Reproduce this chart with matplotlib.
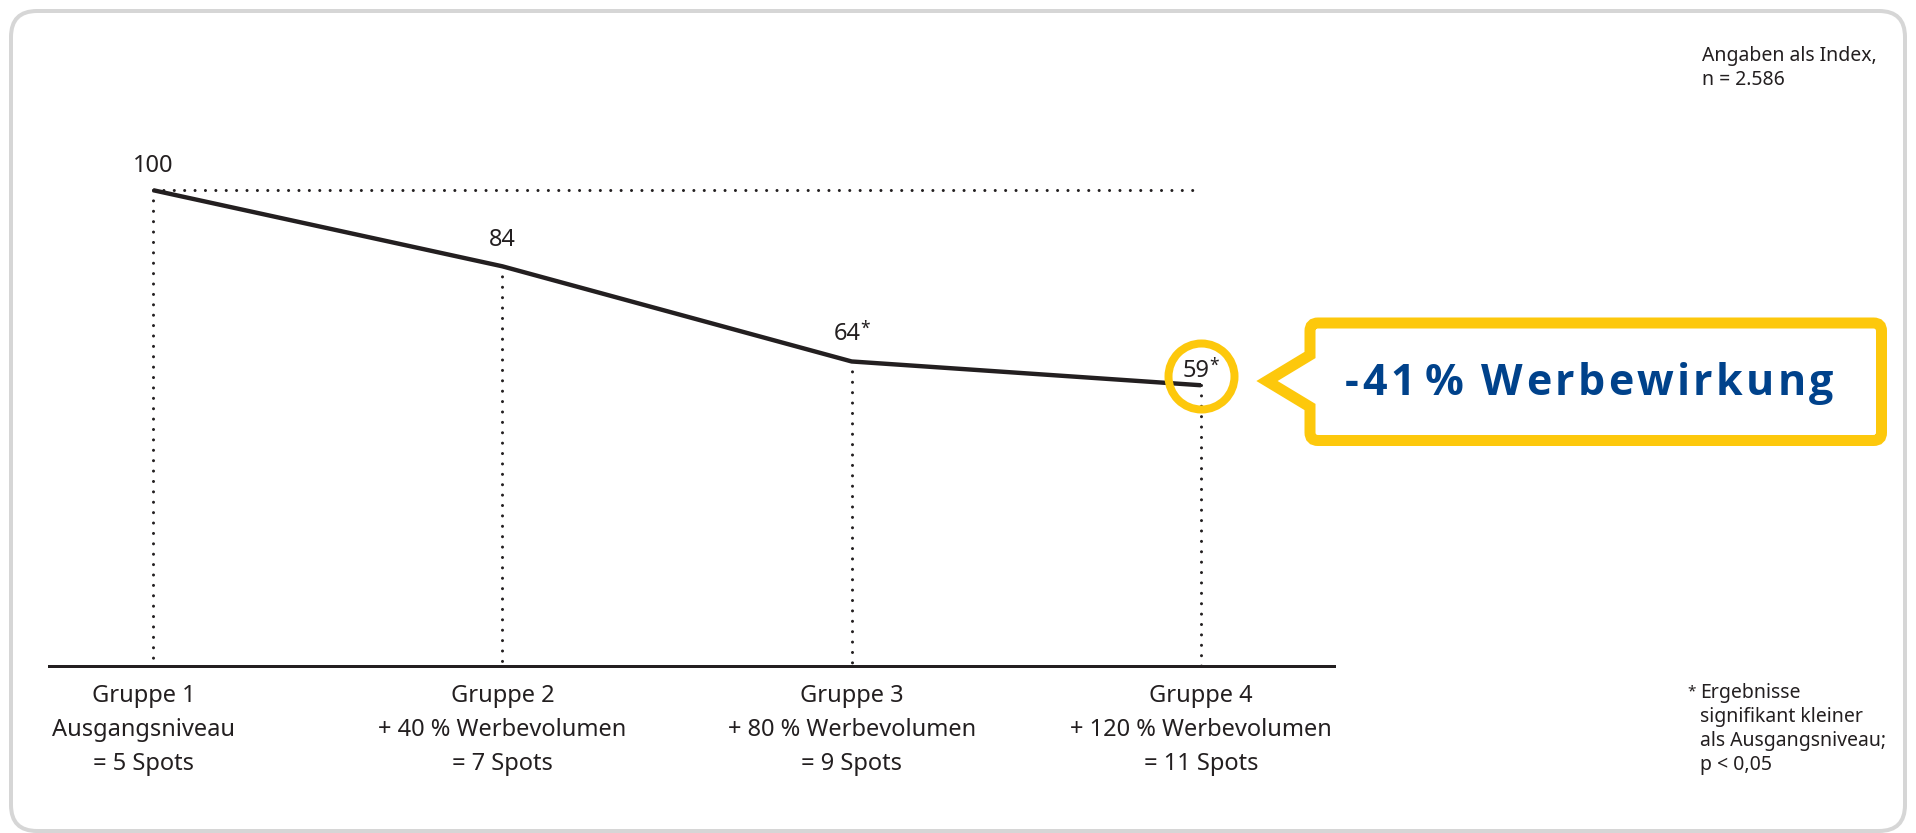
import numpy as np
import matplotlib.pyplot as plt
from matplotlib.patches import FancyBboxPatch, PathPatch
from matplotlib.path import Path
from matplotlib.transforms import offset_copy
from matplotlib.font_manager import FontProperties, findfont
from matplotlib.ft2font import FT2Font

plt.rcParams['font.family'] = ['Noto Sans', 'DejaVu Sans']

# data
groups = ["Gruppe 1\nAusgangsniveau\n= 5 Spots",
          "Gruppe 2\n+ 40 % Werbevolumen\n= 7 Spots",
          "Gruppe 3\n+ 80 % Werbevolumen\n= 9 Spots",
          "Gruppe 4\n+ 120 % Werbevolumen\n= 11 Spots"]
index_values = [100, 84, 64, 59]
value_labels = ["100", "84", "64", "59"]
significant = [False, False, True, True]
callout_text = "-41 % Werbewirkung"
note_top = "Angaben als Index,\nn = 2.586"
note_bottom = "Ergebnisse\nsignifikant kleiner\nals Ausgangsniveau;\np < 0,05"

W, H = 1916, 833
DARK = '#231f20'
YELLOW = '#fdc80c'
BLUE = '#00428b'
GREY = '#d6d6d6'
PT = 0.72  # points per pixel at dpi 100

fig = plt.figure(figsize=(W / 100, H / 100), dpi=100)

# background layer in pixel coordinates
bg = fig.add_axes([0, 0, 1, 1])
bg.set_xlim(0, W)
bg.set_ylim(H, 0)
bg.axis('off')

border = FancyBboxPatch((11, 11), W - 22, H - 13, boxstyle="round,pad=0,rounding_size=26",
                        fc='none', ec=GREY, lw=4 * PT)
bg.add_patch(border)

# chart axes
ax = fig.add_axes([49 / W, (H - 666) / H, (1334 - 49) / W, 571 / H])
x = np.arange(len(index_values))
ax.set_xlim(-0.2977, 3.3808)
ax.set_ylim(0, 120)
ax.patch.set_alpha(0)
for s in ['top', 'right', 'left']:
    ax.spines[s].set_visible(False)
ax.spines['bottom'].set_color(DARK)
ax.spines['bottom'].set_linewidth(3 * PT)
ax.set_xticks([])
ax.set_yticks([])

dot_style = dict(color=DARK, lw=2.2, linestyle=(0, (0.001, 3.4)), dash_capstyle='round')
ax.plot([x[0], x[-1]], [index_values[0], index_values[0]], **dot_style)
for xi, v in zip(x, index_values):
    ax.plot([xi, xi], [v, 0], **dot_style)

ax.plot(x, index_values, color=DARK, lw=4.4 * PT, solid_capstyle='butt', zorder=3)

# circle around last value
circ_tr = offset_copy(ax.transData, fig=fig, x=0, y=9.5 * PT, units='points')
ax.plot([x[-1]], [index_values[-1]], marker='o', ms=66 * PT, mfc='none', mec=YELLOW,
        mew=8 * PT, transform=circ_tr, zorder=4, clip_on=False)

label_dy = [18, 20, 21, 8]
for xi, v, lab, sig, dy in zip(x, index_values, value_labels, significant, label_dy):
    dx = -4.5 if sig else 0
    t = ax.annotate(lab, (xi, v), xytext=(dx * PT, dy * PT), textcoords='offset points',
                    ha='center', va='baseline', fontsize=17, color=DARK, zorder=5)
    if sig:
        ax.annotate("*", xy=(1, 1), xycoords=t, xytext=(-0.5, 2), textcoords='offset points',
                    ha='left', va='top', fontsize=12.5, color=DARK, zorder=5)

label_dx = [-9, 0, 0, 0]
for xi, g, dx in zip(x, groups, label_dx):
    ax.annotate(g, (xi, 0), xytext=(dx * PT, -18 * PT), textcoords='offset points',
                ha='center', va='top', fontsize=17, color=DARK, linespacing=1.55,
                annotation_clip=False)

# callout box with pointer (pixel coords)
L, R, T, B, r = 1310, 1881.5, 323, 440.5, 8
verts = [(L, 355), (1267, 381), (L, 407), (L, B - r), (L, B), (L + r, B), (R - r, B),
         (R, B), (R, B - r), (R, T + r), (R, T), (R - r, T), (L + r, T), (L, T), (L, T + r),
         (L, 355), (L, 355)]
codes = [Path.MOVETO, Path.LINETO, Path.LINETO, Path.LINETO, Path.CURVE3, Path.CURVE3,
         Path.LINETO, Path.CURVE3, Path.CURVE3, Path.LINETO, Path.CURVE3, Path.CURVE3,
         Path.LINETO, Path.CURVE3, Path.CURVE3, Path.LINETO, Path.CLOSEPOLY]
bg.add_patch(PathPatch(Path(verts, codes), fc='white', ec=YELLOW, lw=11 * PT,
                       joinstyle='miter'))

# bold callout text with letter spacing
bold_fam = 'DejaVu Sans'
font_path = findfont(FontProperties(family='DejaVu Sans', weight='bold'))
for fam in ['Open Sans', 'Noto Sans', 'Lato', 'Roboto', 'Liberation Sans']:
    p = findfont(FontProperties(family=fam, weight='bold'), fallback_to_default=False)
    if 'bold' in p.lower():
        bold_fam = fam
        font_path = p
        break
c_size = 31
ft = FT2Font(font_path)
ft.set_size(c_size, 100)
advs = [ft.load_char(ord(c)).linearHoriAdvance / 65536 for c in callout_text]
# the gap between number and percent sign is a narrow one
advs[callout_text.index(' ')] *= 0.3
total_w = 488
track = max(0, (total_w - sum(advs)) / (len(callout_text) - 1))
cx = 1589 - (sum(advs) + track * (len(callout_text) - 1)) / 2
for c, a in zip(callout_text, advs):
    bg.text(cx, 395, c, ha='left', va='baseline', fontsize=c_size, family=bold_fam,
            fontweight='bold', color=BLUE)
    cx += a + track

bg.text(1702, 46, note_top, ha='left', va='top', fontsize=14, color=DARK, linespacing=1.25)
bg.text(1687, 692, "*", ha='left', va='center', fontsize=11, color=DARK)
bg.text(1700, 683, note_bottom, ha='left', va='top', fontsize=14, color=DARK, linespacing=1.27)

fig.savefig('out.png', dpi=100)
